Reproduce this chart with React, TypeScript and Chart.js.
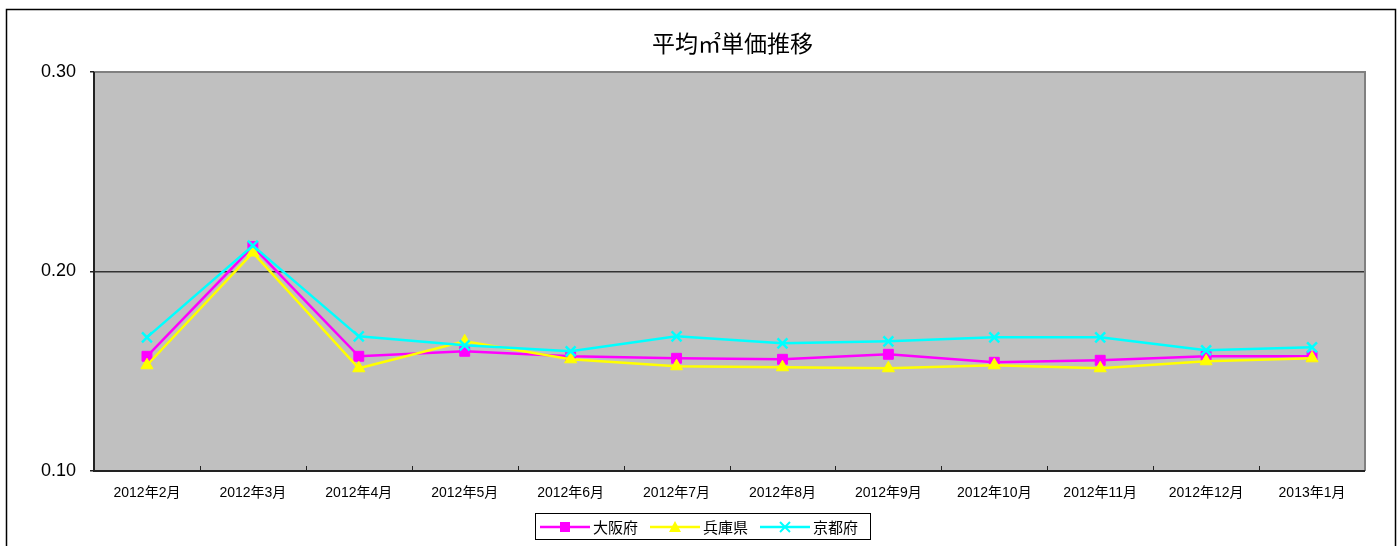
import React, { useEffect, useRef } from "react";
import { Chart, registerables } from "chart.js";

Chart.register(...registerables);

const TITLE = "平均㎡単価推移";
const categories = [
  "2012年2月", "2012年3月", "2012年4月", "2012年5月", "2012年6月", "2012年7月",
  "2012年8月", "2012年9月", "2012年10月", "2012年11月", "2012年12月", "2013年1月",
];
const osaka = [0.1575, 0.2125, 0.1575, 0.160, 0.1575, 0.1565, 0.156, 0.1585, 0.1545, 0.1555, 0.1575, 0.1575];
const hyogo = [0.153, 0.2095, 0.1515, 0.165, 0.156, 0.1525, 0.152, 0.1515, 0.153, 0.1515, 0.155, 0.1565];
const kyoto = [0.167, 0.213, 0.1675, 0.163, 0.160, 0.1675, 0.164, 0.165, 0.167, 0.167, 0.1605, 0.162];
const yTicks = [0.1, 0.2, 0.3];
const seriesNames = ["大阪府", "兵庫県", "京都府"];

const W = 1397;
const H = 546;
const CJK = "'Liberation Sans', 'Noto Sans CJK JP', sans-serif";

const MAGENTA = "#ff00ff";
const YELLOW = "#ffff00";
const CYAN = "#00ffff";

function drawMarker(ctx: CanvasRenderingContext2D, style: string, x: number, y: number, color: string) {
  ctx.save();
  ctx.fillStyle = color;
  ctx.strokeStyle = color;
  ctx.lineWidth = 2;
  if (style === "rect") {
    ctx.fillRect(x - 5, y - 5, 10, 10);
  } else if (style === "triangle") {
    ctx.beginPath();
    ctx.moveTo(x, y - 6);
    ctx.lineTo(x + 6, y + 5);
    ctx.lineTo(x - 6, y + 5);
    ctx.closePath();
    ctx.fill();
  } else {
    ctx.beginPath();
    ctx.moveTo(x - 5, y - 5);
    ctx.lineTo(x + 5, y + 5);
    ctx.moveTo(x + 5, y - 5);
    ctx.lineTo(x - 5, y + 5);
    ctx.stroke();
  }
  ctx.restore();
}

const decorPlugin = {
  id: "decor",
  beforeDraw(chart: any) {
    const { ctx, chartArea: a } = chart;
    ctx.save();
    ctx.fillStyle = "#ffffff";
    ctx.fillRect(0, 0, W, H);
    ctx.strokeStyle = "#000000";
    ctx.lineWidth = 1.5;
    ctx.strokeRect(6.5, 9.5, 1389, 620);
    ctx.fillStyle = "#c0c0c0";
    ctx.fillRect(a.left, a.top, a.right - a.left, a.bottom - a.top);
    ctx.restore();
  },
  afterDatasetsDraw(chart: any) {
    const { ctx, chartArea: a } = chart;
    ctx.save();
    ctx.strokeStyle = "#808080";
    ctx.lineWidth = 2;
    ctx.beginPath();
    ctx.moveTo(a.left, a.top);
    ctx.lineTo(a.right, a.top);
    ctx.lineTo(a.right, a.bottom);
    ctx.stroke();
    ctx.restore();
  },
  afterDraw(chart: any) {
    const { ctx, chartArea: a } = chart;
    const xs = chart.scales.x;
    ctx.save();
    // left / bottom axes
    ctx.strokeStyle = "#222222";
    ctx.lineWidth = 2;
    ctx.beginPath();
    ctx.moveTo(a.left, a.top);
    ctx.lineTo(a.left, a.bottom);
    ctx.lineTo(a.right, a.bottom);
    ctx.stroke();
    // inner tick marks at category boundaries
    ctx.lineWidth = 1;
    ctx.beginPath();
    for (let i = 1; i < categories.length; i++) {
      const bx = Math.round((xs.getPixelForTick(i - 1) + xs.getPixelForTick(i)) / 2) + 0.5;
      ctx.moveTo(bx, a.bottom);
      ctx.lineTo(bx, a.bottom - 5);
    }
    ctx.stroke();
    // title
    ctx.fillStyle = "#000000";
    ctx.font = "23px 'Noto Sans CJK JP', sans-serif";
    ctx.textAlign = "center";
    ctx.textBaseline = "middle";
    ctx.fillText(TITLE, (a.left + a.right) / 2 + 3, 43);
    // legend
    ctx.strokeStyle = "#000000";
    ctx.lineWidth = 1;
    ctx.strokeRect(535.5, 513.5, 335, 26);
    const items = [
      { x: 540, color: MAGENTA, style: "rect" },
      { x: 650, color: YELLOW, style: "triangle" },
      { x: 760, color: CYAN, style: "crossRot" },
    ];
    ctx.font = "15px 'Noto Sans CJK JP', sans-serif";
    ctx.textAlign = "left";
    items.forEach((it, i) => {
      const y = 527;
      ctx.strokeStyle = it.color;
      ctx.lineWidth = 2.5;
      ctx.beginPath();
      ctx.moveTo(it.x, y);
      ctx.lineTo(it.x + 50, y);
      ctx.stroke();
      drawMarker(ctx, it.style, it.x + 25, y, it.color);
      ctx.fillStyle = "#000000";
      ctx.fillText(seriesNames[i], it.x + 53, y);
    });
    ctx.restore();
  },
};

export default function App() {
  const ref = useRef<HTMLCanvasElement | null>(null);
  useEffect(() => {
    const canvas = ref.current!;
    const mk = (label: string, data: number[], color: string, pointStyle: string, order: number, radius: number) => ({
      label,
      data,
      borderColor: color,
      backgroundColor: color,
      borderWidth: 2.5,
      pointStyle,
      pointRadius: radius,
      pointBorderWidth: pointStyle === "crossRot" ? 2.5 : 1,
      pointBackgroundColor: color,
      pointBorderColor: color,
      tension: 0,
      order,
    });
    const chart = new Chart(canvas, {
      type: "line",
      data: {
        labels: categories,
        datasets: [
          mk(seriesNames[0], osaka, MAGENTA, "rect", 3, 7),
          mk(seriesNames[1], hyogo, YELLOW, "triangle", 2, 7),
          mk(seriesNames[2], kyoto, CYAN, "crossRot", 1, 7),
        ],
      },
      options: {
        responsive: false,
        animation: false,
        devicePixelRatio: 1,
        layout: { padding: { top: 72, right: 32, left: 0, bottom: 0 } },
        plugins: {
          legend: { display: false },
          title: { display: false },
          tooltip: { enabled: false },
        },
        scales: {
          x: {
            type: "category",
            offset: true,
            grid: { display: false, drawTicks: false },
            border: { display: false },
            ticks: {
              color: "#000000",
              font: { size: 14, family: CJK },
              padding: 14,
              maxRotation: 0,
              autoSkip: false,
            },
            afterFit(scale: any) {
              scale.height = 75;
            },
          },
          y: {
            min: 0.1,
            max: 0.3,
            afterBuildTicks(scale: any) {
              scale.ticks = yTicks.map((v) => ({ value: v }));
            },
            grid: {
              color: (c: any) => (Math.abs(c.tick.value - 0.2) < 1e-6 ? "#333333" : "rgba(0,0,0,0)"),
              lineWidth: 1.5,
              drawTicks: true,
              tickLength: 4,
              tickColor: "#222222",
            },
            border: { display: false },
            ticks: {
              color: "#000000",
              font: { size: 18, family: "'Liberation Sans', sans-serif" },
              padding: 14,
              callback: (v: any) => Number(v).toFixed(2),
            },
            afterFit(scale: any) {
              scale.width = 94;
            },
          },
        },
      },
      plugins: [decorPlugin],
    } as any);
    return () => chart.destroy();
  }, []);
  return (
    <div style={{ position: "absolute", left: 0, top: 0, width: W, height: H }}>
      <canvas ref={ref} width={W} height={H} style={{ width: W, height: H, display: "block" }} />
    </div>
  );
}
